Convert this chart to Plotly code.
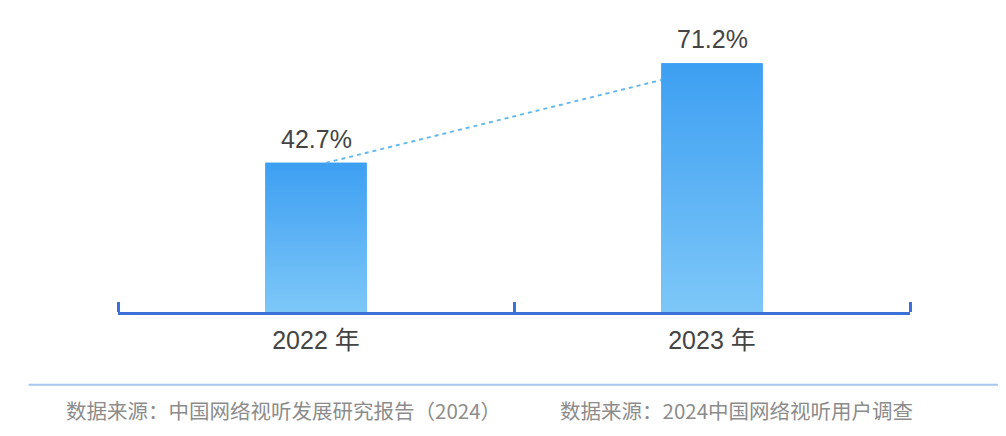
import plotly.graph_objects as go

categories = ["2022 年", "2023 年"]
values = [42.7, 71.2]
value_labels = ["42.7%", "71.2%"]
sources = ["数据来源：中国网络视听发展研究报告（2024）", "数据来源：2024中国网络视听用户调查"]

BAR_W = 0.256
TOP_COLOR = "#3d9ff2"
BOTTOM_COLOR = "#7dc7f8"
AXIS_COLOR = "#3c72d8"
FONT = "Liberation Sans, Noto Sans CJK SC"
CJK = "Noto Sans CJK SC"

xs = list(range(len(categories)))
fig = go.Figure()

# base bars
fig.add_trace(go.Bar(x=xs, y=values, width=BAR_W, marker=dict(color=TOP_COLOR, line=dict(width=0)),
                     hoverinfo="skip", showlegend=False))

# gradient overlays computed from data
for i, v in zip(xs, values):
    fig.add_trace(go.Scatter(
        x=[i - BAR_W / 2, i + BAR_W / 2, i + BAR_W / 2, i - BAR_W / 2, i - BAR_W / 2],
        y=[0, 0, v, v, 0],
        mode="lines", line=dict(width=0), fill="toself",
        fillgradient=dict(type="vertical", colorscale=[[0, BOTTOM_COLOR], [1, TOP_COLOR]]),
        hoverinfo="skip", showlegend=False))

# dashed trend line from top of first bar to left edge of second bar
fig.add_trace(go.Scatter(
    x=[xs[0] + 0.025, xs[1] - BAR_W / 2],
    y=[values[0], values[1] - 4.8],
    mode="lines", line=dict(color="#62b8ee", width=1.9, dash="4px,4px"),
    hoverinfo="skip", showlegend=False))

annotations = [
    dict(x=i, y=v, text=t, xref="x", yref="y", xanchor="center", yanchor="bottom",
         yshift=8, showarrow=False, font=dict(family=FONT, size=25, color="#444444"))
    for i, v, t in zip(xs, values, value_labels)
]
annotations += [
    dict(text=sources[0], xref="paper", yref="paper", x=-0.068, y=-0.33, xanchor="left",
         yanchor="middle", showarrow=False, font=dict(family=CJK, size=20.5, color="#8c8c8c")),
    dict(text=sources[1], xref="paper", yref="paper", x=0.556, y=-0.33, xanchor="left",
         yanchor="middle", showarrow=False, font=dict(family=CJK, size=20.5, color="#8c8c8c")),
]

fig.update_layout(
    width=1006, height=436,
    margin=dict(l=110, r=104, t=7, b=132),
    paper_bgcolor="white", plot_bgcolor="white",
    xaxis=dict(range=[-0.5, 1.5], tickvals=xs, ticktext=categories, ticks="",
               showgrid=False, zeroline=False, showline=True, linecolor=AXIS_COLOR, linewidth=2.5,
               tickfont=dict(family=FONT, size=25, color="#444444"),
               ticklabelstandoff=4,
               minor=dict(tickvals=[-0.5, 0.5, 1.5], ticks="inside", ticklen=10, tickwidth=2.5,
                          tickcolor=AXIS_COLOR, showgrid=False),
               fixedrange=True),
    yaxis=dict(range=[0, 85], visible=False, fixedrange=True),
    font=dict(family=FONT),
    shapes=[dict(type="line", xref="paper", yref="paper", x0=-0.113, x1=1.124,
                 y0=-0.245, y1=-0.245, line=dict(color="#a9c6ef", width=2))],
    annotations=annotations,
)

fig.write_html("out.html")
